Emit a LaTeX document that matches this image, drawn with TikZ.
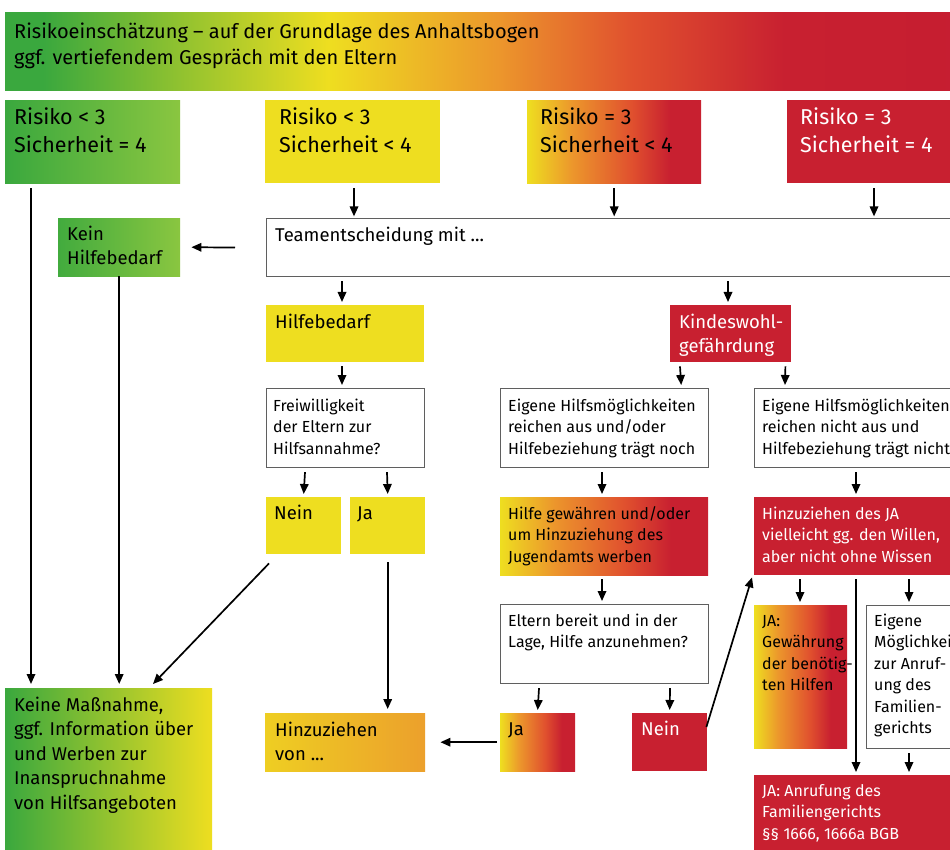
\documentclass[tikz,border=0pt]{standalone}
\usepackage{fontspec}
\setmainfont{Fira Sans}
\usetikzlibrary{arrows.meta,calc}
\definecolor{cgreen}{RGB}{58,168,62}
\definecolor{clgreen}{RGB}{138,198,64}
\definecolor{cyel}{RGB}{238,222,32}
\definecolor{corange}{RGB}{236,150,44}
\definecolor{credor}{RGB}{224,80,46}
\definecolor{cred}{RGB}{200,32,48}
\definecolor{cdred}{RGB}{192,24,50}
\definecolor{cborder}{RGB}{95,95,95}
\definecolor{hvor}{RGB}{236,160,44}
\definecolor{hvyel}{RGB}{238,206,34}
\pgfdeclarehorizontalshading{heat}{100bp}{color(0bp)=(cgreen); color(27bp)=(cgreen); color(42bp)=(cyel); color(51bp)=(corange); color(58bp)=(credor); color(66bp)=(cred); color(100bp)=(cdred)}
\pgfdeclarehorizontalshading{yr}{100bp}{color(0bp)=(cyel); color(25bp)=(cyel); color(38bp)=(corange); color(55bp)=(credor); color(66bp)=(cred); color(100bp)=(cred)}
\newcommand\myHead{\fontsize{21.5}{28}\selectfont}
\newcommand\myTop{\fontsize{20}{26}\selectfont}
\newcommand\myBig{\fontsize{18.5}{24.5}\selectfont}
\newcommand\mySmall{\fontsize{16}{21.5}\selectfont}
\tikzset{
  x=1pt,y=-1pt,
  bx/.style={rectangle,inner sep=0pt,anchor=north west,draw=none},
  wbox/.style={bx,draw=cborder,line width=1.2pt,fill=white},
  txt/.style={inner sep=0pt,anchor=base west,align=left},
  th/.style={txt,font=\myHead},
  tt/.style={txt,font=\myTop},
  tb/.style={txt,font=\myBig},
  ts/.style={txt,font=\mySmall},
  arr/.style={line width=1.7pt,-{Triangle[length=10pt,width=8.5pt]}},
}
\begin{document}
\begin{tikzpicture}
\useasboundingbox (0,0) rectangle (950,850);
\clip (0,0) rectangle (950,850);
\fill[white] (0,0) rectangle (950,850);
% header
\node[bx,shading=heat,minimum width=950pt,minimum height=78pt] (H) at (5,12) {};
\node[tt] (Ht) at (14,65) {Risikoeinschätzung -- auf der Grundlage des Anhaltsbogen\\ggf. vertiefendem Gespräch mit den Eltern};
% row 1
\node[bx,left color=cgreen,right color=clgreen,minimum width=175pt,minimum height=83pt] (A) at (5,100) {};
\node[th] (At) at (14,153) {Risiko < 3\\Sicherheit = 4};
\node[bx,fill=cyel,minimum width=175pt,minimum height=83pt] (B) at (265,100) {};
\node[th] (Bt) at (279,153) {Risiko < 3\\Sicherheit < 4};
\node[bx,shading=yr,minimum width=174pt,minimum height=83pt] (C) at (527,100) {};
\node[th] (Ct) at (540,153) {Risiko = 3\\Sicherheit < 4};
\node[bx,fill=cred,minimum width=175pt,minimum height=83pt] (D) at (787,100) {};
\node[th,text=white] (Dt) at (800,153) {Risiko = 3\\Sicherheit = 4};
% team
\node[wbox,minimum width=700pt,minimum height=58pt] (T) at (266,218) {};
\node[tb] (Tt) at (275,242) {Teamentscheidung mit ...};
\node[bx,left color=cgreen!90!clgreen,right color=clgreen,minimum width=122pt,minimum height=58pt] (K) at (58,218) {};
\node[tb] (Kt) at (67,265) {Kein\\Hilfebedarf};
% row 3
\node[bx,fill=cyel,minimum width=158pt,minimum height=57pt] (Hb) at (266,305) {};
\node[tb] (Hbt) at (275,328) {Hilfebedarf};
\node[bx,fill=cred,minimum width=121pt,minimum height=57pt] (Kw) at (670,305) {};
\node[tb,text=white] (Kwt) at (679,352.5) {Kindeswohl-\\gefährdung};
% row 4
\node[wbox,minimum width=158pt,minimum height=79pt] (F) at (266,388) {};
\node[ts] (Ft) at (273,454) {Freiwilligkeit\\der Eltern zur\\Hilfsannahme?};
\node[wbox,minimum width=208pt,minimum height=79pt] (E1) at (500,388) {};
\node[ts] (E1t) at (508,454) {Eigene Hilfsmöglichkeiten\\reichen aus und/oder\\Hilfebeziehung trägt noch};
\node[wbox,minimum width=210pt,minimum height=79pt] (E2) at (754,388) {};
\node[ts] (E2t) at (762,454) {Eigene Hilfsmöglichkeiten\\reichen nicht aus und\\Hilfebeziehung trägt nicht};
% row 5
\node[bx,fill=cyel,minimum width=75pt,minimum height=57pt] (Ny) at (266,497) {};
\node[tb] (Nyt) at (274,519) {Nein};
\node[bx,fill=cyel,minimum width=75pt,minimum height=57pt] (Jy) at (350,497) {};
\node[tb] (Jyt) at (357,519) {Ja};
\node[bx,shading=yr,minimum width=208pt,minimum height=78pt] (HG) at (500,497) {};
\node[ts] (HGt) at (508,562) {Hilfe gewähren und/oder\\um Hinzuziehung des\\Jugendamts werben};
\node[bx,fill=cred,minimum width=210pt,minimum height=78pt] (HJ) at (754,497) {};
\node[ts,text=white] (HJt) at (762,562) {Hinzuziehen des JA\\vielleicht gg. den Willen,\\aber nicht ohne Wissen};
% row 6
\node[wbox,minimum width=208pt,minimum height=79pt] (El) at (500,604) {};
\node[ts] (Elt) at (508,647.5) {Eltern bereit und in der\\Lage, Hilfe anzunehmen?};
\node[bx,shading=yr,minimum width=93pt,minimum height=143pt] (JG) at (754,605) {};
\node[ts] (JGt) at (762,690.5) {JA:\\Gewährung\\der benötig-\\ten Hilfen};
\node[wbox,minimum width=100pt,minimum height=143pt] (EM) at (866,605) {};
\node[ts] (EMt) at (874,733.5) {Eigene\\Möglichkeit\\zur Anruf-\\ung des\\Familien-\\gerichts};
% bottom
\node[bx,left color=cgreen,right color=cyel,minimum width=207pt,minimum height=170pt] (KM) at (5,688) {};
\node[tb] (KMt) at (14,809) {Keine Maßnahme,\\ggf. Information über\\und Werben zur\\Inanspruchnahme\\von Hilfsangeboten};
\node[bx,left color=hvyel,right color=hvor,minimum width=160pt,minimum height=58pt] (Hv) at (265,713) {};
\node[tb] (Hvt) at (275,760.5) {Hinzuziehen\\von ...};
\node[bx,shading=yr,minimum width=75pt,minimum height=58pt] (JaG) at (500,713) {};
\node[tb] (JaGt) at (508,735) {Ja};
\node[bx,fill=cred,minimum width=75pt,minimum height=58pt] (NeR) at (632,713) {};
\node[tb,text=white] (NeRt) at (641,735) {Nein};
\node[bx,fill=cred,minimum width=210pt,minimum height=90pt] (JA) at (754,775) {};
\node[ts,text=white] (JAt) at (762,839) {JA: Anrufung des\\Familiengerichts\\§§ 1666, 1666a BGB};
% connectors
\draw[arr] ($(B.south west)+(89,5)$) -- ($(B.south west)+(89,33)$);
\draw[arr] ($(C.south)+(0,5)$) -- ($(C.south)+(0,33)$);
\draw[arr] ($(D.south west)+(87,5)$) -- ($(D.south west)+(87,33)$);
\draw[arr] ($(T.west)+(-31,0)$) -- ($(K.east)+(11,0)$);
\draw[arr] ($(A.south west)+(26,5)$) -- ($(KM.north west)+(26,-4)$);
\draw[arr] (K.south) -- ($(K.south |- KM.north)+(0,-4)$);
\draw[arr] ($(T.south west)+(76,4)$) -- ($(Hb.north west)+(76,-3)$);
\draw[arr] ($(T.south west)+(462,4)$) -- ($(Kw.north west)+(58,-3)$);
\draw[arr] ($(Hb.south west)+(76,4)$) -- ($(F.north west)+(76,-3)$);
\draw[arr] ($(Kw.south west)+(10,4)$) -- ($(E1.north east)+(-28,-3)$);
\draw[arr] ($(Kw.south east)+(-6,4)$) -- ($(E2.north west)+(31,-3)$);
\draw[arr] ($(F.south west)+(39,4)$) -- ($(Ny.north)+(0,-3)$);
\draw[arr] ($(F.south west)+(121,4)$) -- ($(Jy.north)+(0,-3)$);
\draw[arr] ($(E1.south west)+(102,4)$) -- ($(HG.north west)+(102,-3)$);
\draw[arr] ($(E2.south west)+(102,4)$) -- ($(HJ.north west)+(102,-3)$);
\draw[arr] ($(HG.south west)+(102,4)$) -- ($(El.north west)+(102,-3)$);
\draw[arr] ($(El.south west)+(39,4)$) -- ($(JaG.north)+(0,-3)$);
\draw[arr] ($(El.south west)+(170,4)$) -- ($(NeR.north)+(0,-3)$);
\draw[arr] ($(NeR.north east)+(-1,14)$) -- ($(HJ.south west)+(-2,2)$);
\draw[arr] ($(HJ.south west)+(46,4)$) -- ($(JG.north west)+(46,-3)$);
\draw[arr] ($(HJ.south west)+(155,4)$) -- ($(EM.north west)+(43,-3)$);
\draw[arr] ($(HJ.south west)+(102,4)$) -- ($(JA.north west)+(102,-3)$);
\draw[arr] ($(EM.south west)+(43,4)$) -- ($(JA.north west)+(155,-3)$);
\draw[arr] ($(Ny.south west)+(3,9)$) -- ($(KM.north west)+(148,-4)$);
\draw[arr] ($(Jy.south)+(0,8)$) -- ($(Jy.south |- Hv.north)+(0,-4)$);
\draw[arr] ($(JaG.west)+(-3,0)$) -- ($(Hv.east)+(15,0)$);
\end{tikzpicture}
\end{document}
